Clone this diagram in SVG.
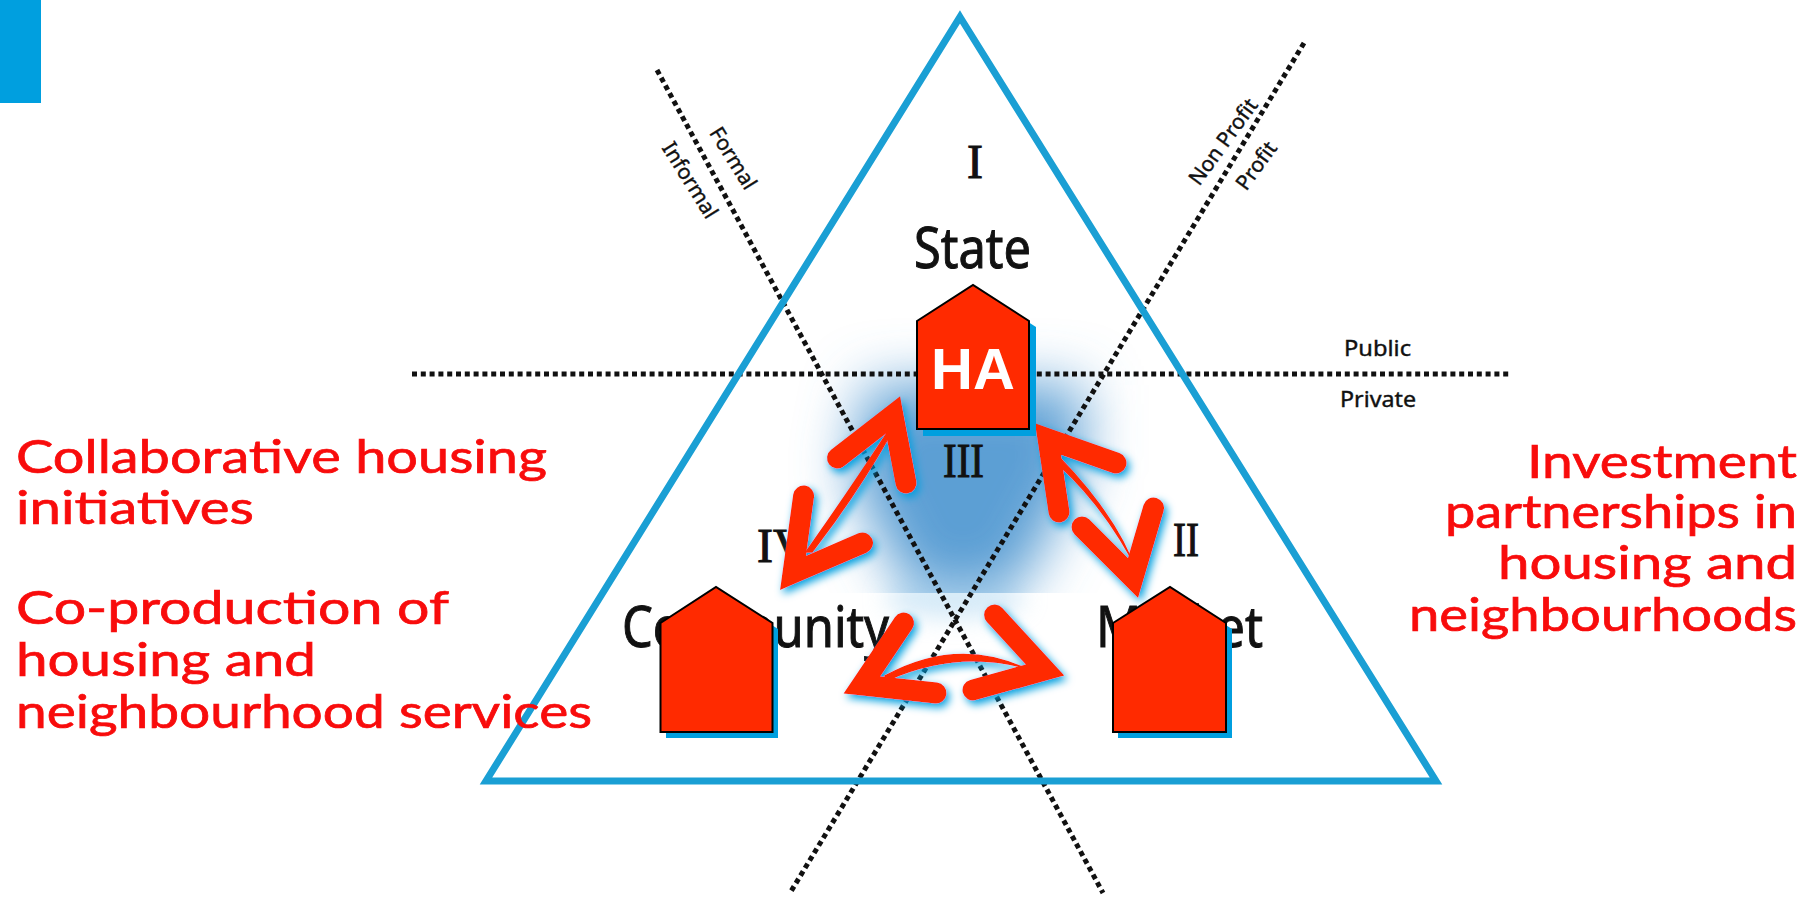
<svg xmlns="http://www.w3.org/2000/svg" width="1814" height="898" viewBox="0 0 1814 898">
<defs>
<style>
.dot{fill:none;stroke:#111;stroke-width:5;stroke-dasharray:5 3.8}
.lab{font-family:"Noto Sans","DejaVu Sans",sans-serif;fill:#111;stroke:#111;stroke-width:.4}
.small{font-size:21px}
.big{font-size:56px;stroke-width:1}
.num{font-family:"Liberation Serif",serif;font-size:48px;fill:#111;stroke:#111;stroke-width:1}
.hand{font-family:"Lato","Open Sans",sans-serif;font-size:46px;fill:#f80c0c;stroke:#f80c0c;stroke-width:.7}
.arm{fill:none;stroke:#ff2a00;stroke-width:21;stroke-linecap:round;stroke-linejoin:miter;stroke-miterlimit:6}
.thin{fill:#ff2a00;stroke:#ff2a00;stroke-width:1.5}
.house{fill:#ff2a00;stroke:#000;stroke-width:2}
.shade{fill:#009fdf}
</style>
<filter id="blur" x="-40%" y="-40%" width="180%" height="180%"><feGaussianBlur stdDeviation="28"/></filter>
<filter id="halo" x="-60%" y="-100%" width="220%" height="300%"><feGaussianBlur stdDeviation="12"/></filter>
<filter id="glow" x="-10%" y="-10%" width="120%" height="120%"><feDropShadow dx="3" dy="4" stdDeviation="4" flood-color="#009fdf"/></filter>
<clipPath id="cut"><rect x="760" y="300" width="400" height="293"/></clipPath>
</defs>
<rect width="1814" height="898" fill="#fff"/>
<rect id="corner" width="41" height="103" fill="#009fdf"/>

<g id="shade-zone">
<ellipse cx="955" cy="598" rx="70" ry="20" fill="#a9d4f0" opacity=".5" filter="url(#halo)"/>
<g clip-path="url(#cut)"><polygon points="868,385 1082,385 1082,470 1015,595 910,595 850,475" fill="#5b9fd4" filter="url(#blur)"/></g>
</g>

<g id="axes">
<path class="dot" d="M412 374H1511"/>
<path class="dot" d="M657 70L1103 893"/>
<path class="dot" d="M1304 43L790 893"/>
</g>

<polygon id="triangle" points="960,17 1436,781 486,781" fill="none" stroke="#1a9fd4" stroke-width="7"/>

<g id="axis-labels">
<text class="lab small" x="1344" y="356" textLength="67" lengthAdjust="spacingAndGlyphs">Public</text>
<text class="lab small" x="1340" y="407" textLength="76" lengthAdjust="spacingAndGlyphs">Private</text>
<text class="lab small" text-anchor="middle" transform="translate(727,162) rotate(58)">Formal</text>
<text class="lab small" text-anchor="middle" transform="translate(684,184) rotate(58)">Informal</text>
<text class="lab small" text-anchor="middle" transform="translate(1229,146) rotate(-54)">Non Profit</text>
<text class="lab small" text-anchor="middle" transform="translate(1262,170) rotate(-54)">Profit</text>
</g>

<g id="state"><text class="num" x="975" y="178" text-anchor="middle">I</text><text class="lab big" x="914" y="268" textLength="117" lengthAdjust="spacingAndGlyphs">State</text></g>
<g id="third"><text class="num" x="943" y="477" textLength="41" lengthAdjust="spacingAndGlyphs">III</text></g>
<g id="community"><text class="num" x="757" y="562">IV</text><text class="lab big" x="622" y="647" textLength="267" lengthAdjust="spacingAndGlyphs">Community</text></g>
<g id="market"><text class="num" x="1173" y="556" textLength="26" lengthAdjust="spacingAndGlyphs">II</text><text class="lab big" x="1096" y="647" textLength="167" lengthAdjust="spacingAndGlyphs">Market</text></g>

<g id="connectors" filter="url(#glow)">
<path class="arm" d="M837.500 458L893 415L906 483"/>
<path class="arm" d="M803.600 496L793 573L862.500 543"/>
<path class="thin" d="M887 433Q850 490 806 552L812 552Q856 495 889 437Z"/>
<path class="arm" d="M1116 463L1048 439L1059 512"/>
<path class="arm" d="M1153.600 508L1133 578L1082 527"/>
<path class="thin" d="M1060 458Q1110 510 1131 558Q1102 505 1060 466Z"/>
<path class="arm" d="M903.600 623L862 685L936 693"/>
<path class="arm" d="M994.600 615L1045 670L973 690"/>
<path class="thin" d="M885 676Q955 638 1022 667Q955 650 888 680Z"/>
</g>

<g id="node-ha">
<polygon class="shade" points="923,327 979,291 1036,327 1036,436 923,436"/>
<polygon class="house" points="917,321 973,285 1029,321 1029,429 917,429"/>
<text x="973" y="389" text-anchor="middle" font-family="Liberation Sans, sans-serif" font-weight="700" font-size="58" fill="#fff">HA</text>
</g>
<g id="node-community">
<polygon class="shade" points="666,738 666,629 722,593 778,629 778,738"/>
<polygon class="house" points="660.500,623 716,587 772.500,623 772.500,732 660.500,732"/>
</g>
<g id="node-market">
<polygon class="shade" points="1118,629 1176,593 1232,629 1232,738 1118,738"/>
<polygon class="house" points="1113,623 1170,587 1226,623 1226,732 1113,732"/>
</g>

<g id="notes-left">
<text class="hand" x="16" y="473" textLength="531" lengthAdjust="spacingAndGlyphs">Collaborative housing</text>
<text class="hand" x="16" y="524" textLength="238" lengthAdjust="spacingAndGlyphs">initiatives</text>
<text class="hand" x="16" y="624" textLength="433" lengthAdjust="spacingAndGlyphs">Co-production of</text>
<text class="hand" x="16" y="676" textLength="300" lengthAdjust="spacingAndGlyphs">housing and</text>
<text class="hand" x="16" y="728" textLength="576" lengthAdjust="spacingAndGlyphs">neighbourhood services</text>
</g>
<g id="notes-right">
<text class="hand" x="1527" y="478" textLength="270" lengthAdjust="spacingAndGlyphs">Investment</text>
<text class="hand" x="1445" y="528" textLength="352" lengthAdjust="spacingAndGlyphs">partnerships in</text>
<text class="hand" x="1498" y="579" textLength="299" lengthAdjust="spacingAndGlyphs">housing and</text>
<text class="hand" x="1409" y="631" textLength="388" lengthAdjust="spacingAndGlyphs">neighbourhoods</text>
</g>
</svg>
